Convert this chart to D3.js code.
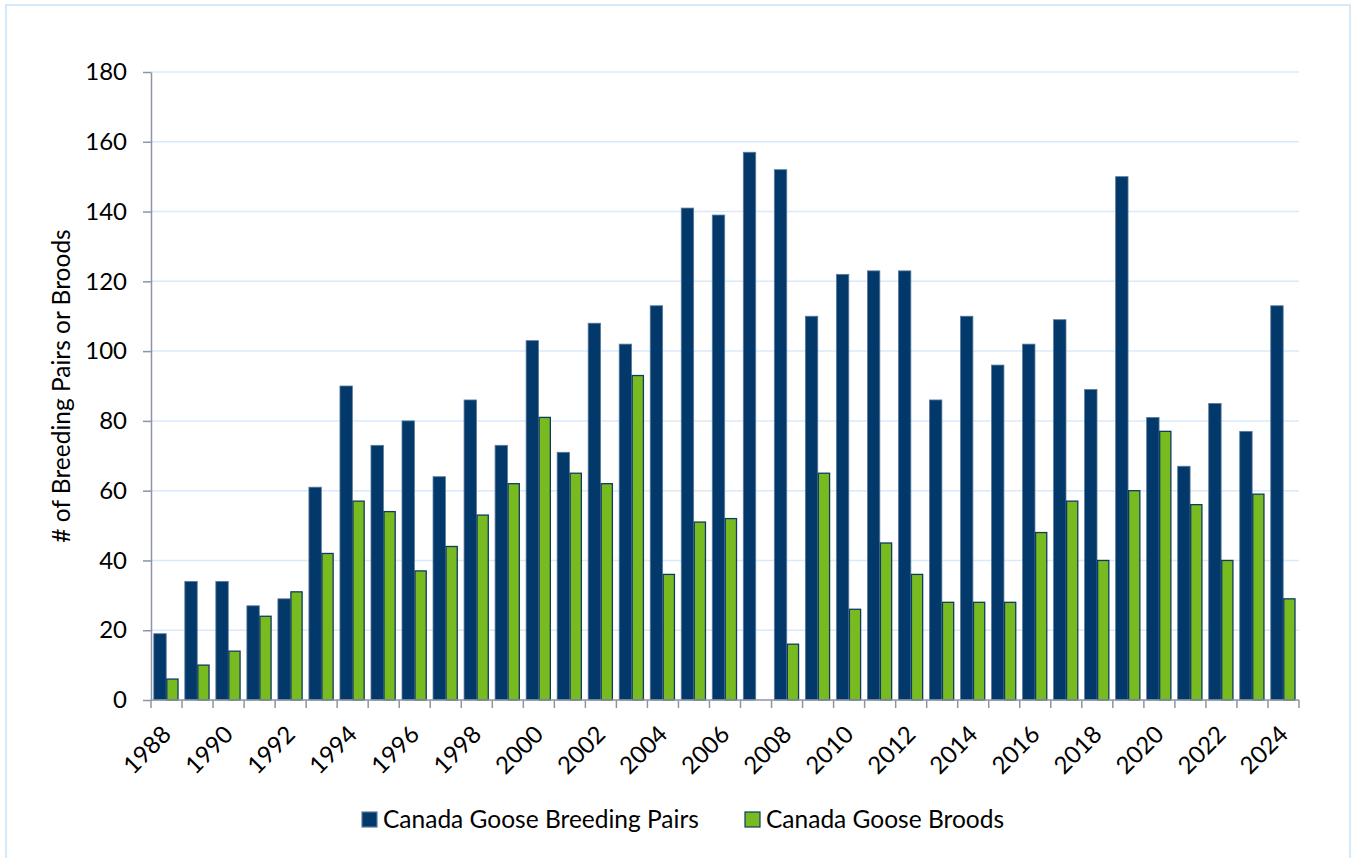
<!DOCTYPE html>
<html>
<head>
<meta charset="utf-8">
<script src="https://cdn.jsdelivr.net/npm/d3@7"></script>
<style>
  html, body { margin: 0; padding: 0; background: #ffffff; }
  svg { display: block; }
  text { font-family: Lato, "Open Sans", sans-serif; fill: #000; }
</style>
</head>
<body>
<svg id="chart" width="1351" height="858"></svg>
<script>
// Canada goose survey counts by year
const years = d3.range(1988, 2025);
const breedingPairs = [19, 34, 34, 27, 29, 61, 90, 73, 80, 64, 86, 73, 103, 71, 108, 102, 113, 141, 139, 157,
  152, 110, 122, 123, 123, 86, 110, 96, 102, 109, 89, 150, 81, 67, 85, 77, 113];
const broods = [6, 10, 14, 24, 31, 42, 57, 54, 37, 44, 53, 62, 81, 65, 62, 93, 36, 51, 52, 0,
  16, 65, 26, 45, 36, 28, 28, 28, 48, 57, 40, 60, 77, 56, 40, 59, 29];
const seriesNames = ["Canada Goose Breeding Pairs", "Canada Goose Broods"];
const yTicks = [0, 20, 40, 60, 80, 100, 120, 140, 160, 180];
const xTickLabels = years.filter(y => y % 2 === 0);
const yTitle = "# of Breeding Pairs or Broods";

const colors = { pairs: "#02396a", broods: "#77bb21" };

const svg = d3.select("#chart");
const W = 1351, H = 858;
const plot = { left: 151, right: 1299, top: 72, bottom: 700 };

// outer frame
svg.append("rect")
  .attr("x", 6).attr("y", 5)
  .attr("width", W - 7).attr("height", H + 10)
  .attr("fill", "#fff")
  .attr("stroke", "#d6e9fa").attr("stroke-width", 2);

const x0 = d3.scaleBand().domain(years).range([plot.left, plot.right]).padding(0);
const bw = x0.bandwidth();
const x1 = d3.scaleBand().domain(["pairs", "broods"]).range([0.09 * bw, 0.89 * bw]);
const y = d3.scaleLinear().domain([0, 180]).range([plot.bottom, plot.top]);

// gridlines
svg.append("g")
  .selectAll("line")
  .data(yTicks.filter(t => t > 0))
  .join("line")
  .attr("x1", plot.left).attr("x2", plot.right)
  .attr("y1", d => y(d)).attr("y2", d => y(d))
  .attr("stroke", "#d8eafb").attr("stroke-width", 1.5);

// bars
const rows = years.map((yr, i) => ({ year: yr, pairs: breedingPairs[i], broods: broods[i] }));
const groups = svg.append("g").selectAll("g")
  .data(rows)
  .join("g")
  .attr("transform", d => `translate(${x0(d.year)},0)`);

groups.append("rect")
  .attr("x", x1("pairs"))
  .attr("width", x1.bandwidth())
  .attr("y", d => y(d.pairs))
  .attr("height", d => y(0) - y(d.pairs))
  .attr("fill", colors.pairs)
  .attr("stroke", "#5b7b9c").attr("stroke-width", 0.8);

groups.filter(d => d.broods > 0).append("rect")
  .attr("x", x1("broods") + 0.6)
  .attr("width", x1.bandwidth() - 1.2)
  .attr("y", d => y(d.broods))
  .attr("height", d => y(0) - y(d.broods))
  .attr("fill", colors.broods)
  .attr("stroke", "#0f3b60").attr("stroke-width", 1.3);

// y axis
const yAxis = d3.axisLeft(y).tickValues(yTicks).tickSize(8).tickPadding(16).tickSizeOuter(0);
const gy = svg.append("g").attr("transform", `translate(${plot.left},0)`).call(yAxis);
gy.select(".domain").attr("stroke", "#8c94a5").attr("stroke-width", 1.5);
gy.selectAll(".tick line").attr("stroke", "#8c94a5").attr("stroke-width", 1.5);
gy.selectAll(".tick text")
  .attr("font-size", 24).attr("font-family", "Lato, sans-serif").attr("fill", "#000");

// x axis: category boundary ticks
const gx = svg.append("g");
gx.append("line")
  .attr("x1", plot.left).attr("x2", plot.right)
  .attr("y1", plot.bottom).attr("y2", plot.bottom)
  .attr("stroke", "#8c94a5").attr("stroke-width", 1.5);
gx.selectAll("line.tk")
  .data(years.concat([years[years.length - 1] + 1]))
  .join("line")
  .attr("class", "tk")
  .attr("x1", d => d <= 2024 ? x0(d) : plot.right)
  .attr("x2", d => d <= 2024 ? x0(d) : plot.right)
  .attr("y1", plot.bottom).attr("y2", plot.bottom + 8)
  .attr("stroke", "#8c94a5").attr("stroke-width", 1.5);

gx.selectAll("text")
  .data(xTickLabels)
  .join("text")
  .attr("transform", d => `translate(${x0(d) + bw / 2 + 6},${plot.bottom + 36}) rotate(-45)`)
  .attr("text-anchor", "end")
  .attr("font-size", 24)
  .text(d => d);

// y title
svg.append("text")
  .attr("transform", `translate(70,${(plot.top + plot.bottom) / 2}) rotate(-90)`)
  .attr("text-anchor", "middle")
  .attr("font-size", 24.5)
  .text(yTitle);

// legend
const legend = svg.append("g");
const legendItems = [
  { name: seriesNames[0], fill: colors.pairs, stroke: "#5b7b9c", x: 362 },
  { name: seriesNames[1], fill: colors.broods, stroke: "#0f3b60", x: 745 }
];
const li = legend.selectAll("g").data(legendItems).join("g")
  .attr("transform", d => `translate(${d.x},812)`);
li.append("rect")
  .attr("width", 15).attr("height", 15)
  .attr("fill", d => d.fill).attr("stroke", d => d.stroke).attr("stroke-width", 1.2);
li.append("text")
  .attr("x", 21).attr("y", 16)
  .attr("font-size", 24.5)
  .text(d => d.name);
</script>
</body>
</html>
